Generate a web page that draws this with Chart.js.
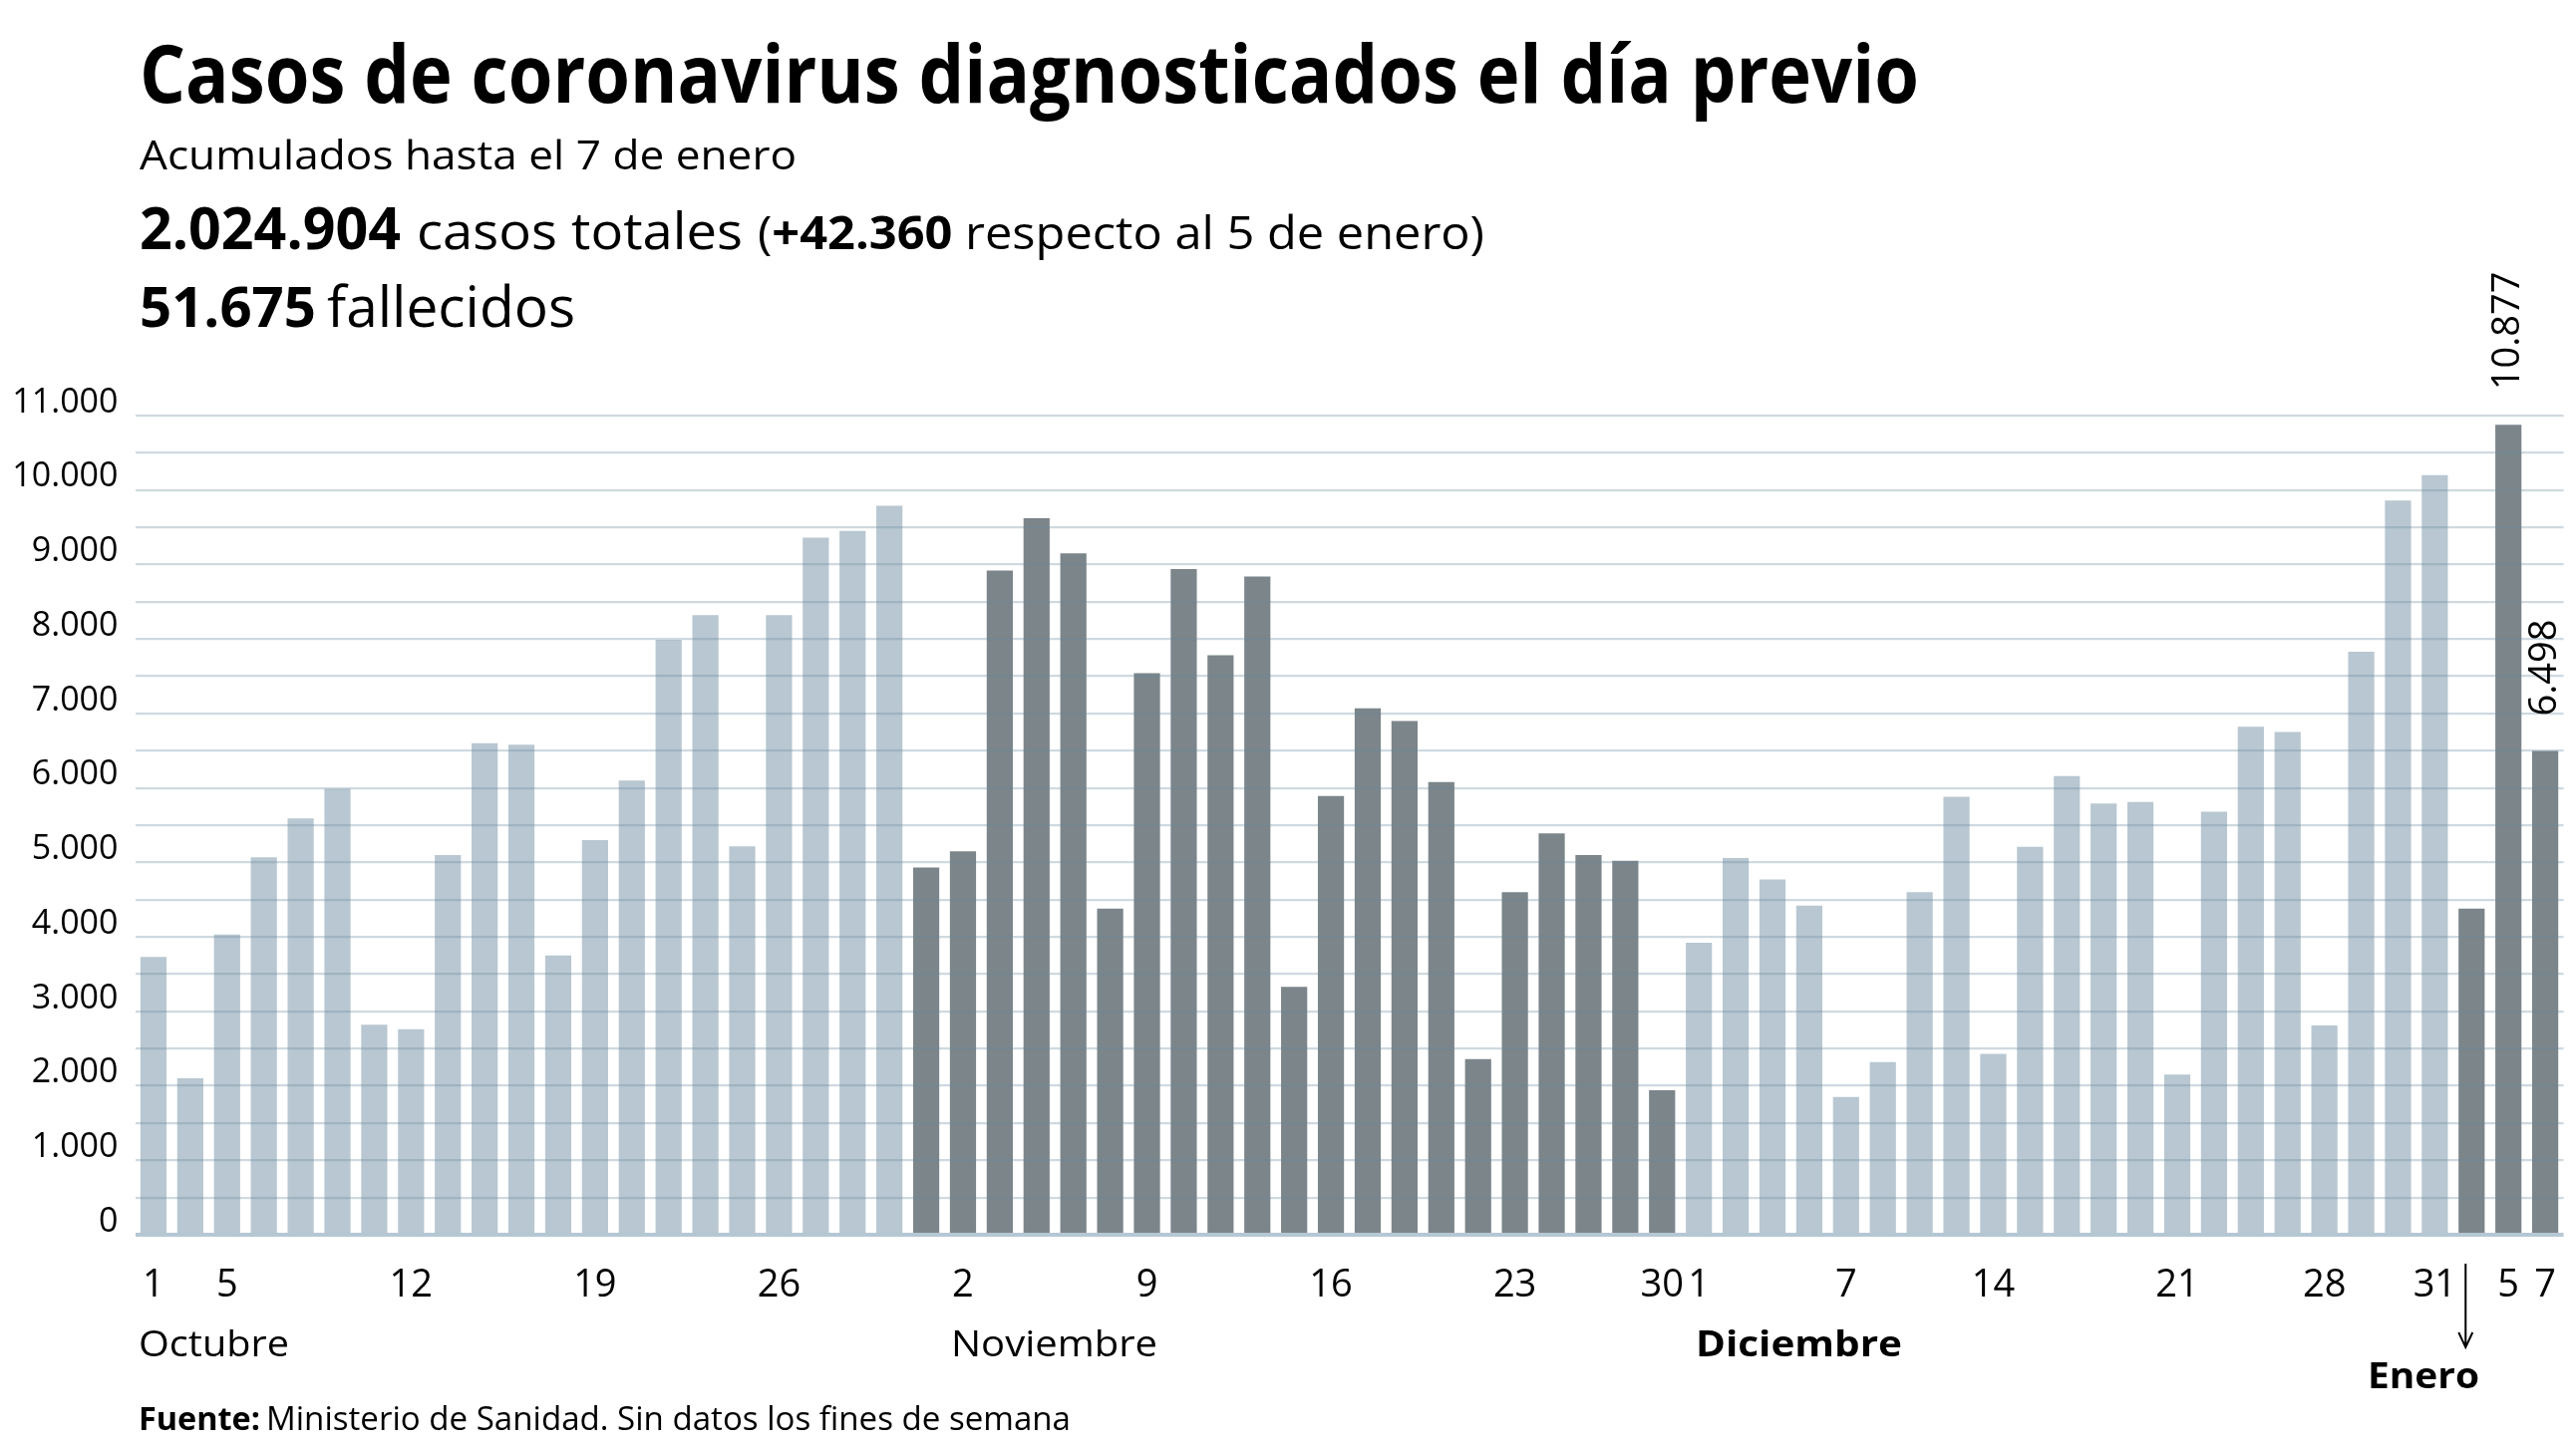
<!DOCTYPE html>
<html lang="es">
<head>
<meta charset="utf-8">
<title>Casos de coronavirus diagnosticados el día previo</title>
<script src="https://cdn.jsdelivr.net/npm/chart.js@4.4.1/dist/chart.umd.min.js"></script>
<style>
  html, body { margin: 0; padding: 0; background: #fff; }
  #wrap { position: relative; width: 2584px; height: 1455px; overflow: hidden; }
  #wrap canvas { position: absolute; left: 0; top: 0; }
  #textos { position: absolute; left: 0; top: 0; font-family: "Open Sans", sans-serif; fill: #000; }
</style>
</head>
<body>
<div id="wrap">
  <canvas id="casosChart" width="2584" height="1455"></canvas>
  <svg id="textos" width="2584" height="1455">
    <text x="140" y="103" font-size="81" font-weight="700" textLength="1785" lengthAdjust="spacingAndGlyphs">Casos de coronavirus diagnosticados el día previo</text>
    <text x="140" y="170" font-size="40" textLength="659" lengthAdjust="spacingAndGlyphs">Acumulados hasta el 7 de enero</text>
    <text x="140" y="250" font-size="59" font-weight="700" textLength="262" lengthAdjust="spacingAndGlyphs">2.024.904</text>
    <text x="418" y="250" font-size="52" textLength="327" lengthAdjust="spacingAndGlyphs">casos totales</text>
    <text x="760" y="250" font-size="46" textLength="729" lengthAdjust="spacingAndGlyphs">(<tspan font-weight="700">+42.360</tspan> respecto al 5 de enero)</text>
    <text x="140" y="328" font-size="56" font-weight="700" textLength="177" lengthAdjust="spacingAndGlyphs">51.675</text>
    <text x="328" y="328" font-size="56" textLength="249" lengthAdjust="spacingAndGlyphs">fallecidos</text>
    <text x="139" y="1361" font-size="36" textLength="151" lengthAdjust="spacingAndGlyphs">Octubre</text>
    <text x="954" y="1361" font-size="36" textLength="207" lengthAdjust="spacingAndGlyphs">Noviembre</text>
    <text x="1701" y="1361" font-size="36" font-weight="700" textLength="207" lengthAdjust="spacingAndGlyphs">Diciembre</text>
    <text x="2375" y="1393" font-size="36" font-weight="700" textLength="112" lengthAdjust="spacingAndGlyphs">Enero</text>
    <text x="139" y="1435" font-size="32" font-weight="700" textLength="122" lengthAdjust="spacingAndGlyphs">Fuente:</text>
    <text x="267" y="1435" font-size="32" textLength="807" lengthAdjust="spacingAndGlyphs">Ministerio de Sanidad. Sin datos los fines de semana</text>
  </svg>
</div>
<script>
// Días con datos (sin fines de semana ni festivos)
const diasOct = [1, 2, 5, 6, 7, 8, 9, 13, 14, 15, 16, 19, 20, 21, 22, 23, 26, 27, 28, 29, 30];
const diasNov = [2, 3, 4, 5, 6, 9, 10, 11, 12, 13, 16, 17, 18, 19, 20, 23, 24, 25, 26, 27, 30];
const diasDic = [1, 2, 3, 4, 7, 9, 10, 11, 14, 15, 16, 17, 18, 21, 22, 23, 24, 28, 29, 30, 31];
const diasEne = [4, 5, 7];

// Casos diagnosticados el día previo
const casosOct = [3730, 2100, 4030, 5070, 5590, 5990, 2820, 2760, 5100, 6600, 6580, 3750, 5300, 6100, 7990, 8320, 5215, 8320, 9360, 9450, 9790];
const casosNov = [4930, 5150, 8920, 9620, 9150, 4380, 7540, 8940, 7780, 8840, 3330, 5890, 7070, 6900, 6080, 2360, 4600, 5390, 5100, 5020, 1940];
const casosDic = [3920, 5060, 4770, 4420, 1850, 2320, 4600, 5880, 2430, 5210, 6160, 5790, 5810, 2150, 5680, 6820, 6750, 2810, 7830, 9860, 10200];
const casosEne = [4380, 10877, 6498];

// Etiquetas del eje tal como aparecen impresas
const etiquetasOct = ["1", "", "5", "", "", "", "", "12", "", "", "", "", "19", "", "", "", "", "26", "", "", ""];
const etiquetasNov = ["", "2", "", "", "", "", "9", "", "", "", "", "16", "", "", "", "", "23", "", "", "", "30"];
const etiquetasDic = ["1", "", "", "", "7", "", "", "", "14", "", "", "", "", "21", "", "", "", "28", "", "", "31"];
const etiquetasEne = ["", "5", "7"];

const claro = "#b8c7d1";
const oscuro = "#7b858a";

const dias = [...diasOct, ...diasNov, ...diasDic, ...diasEne];
const casos = [...casosOct, ...casosNov, ...casosDic, ...casosEne];
const etiquetasEje = [...etiquetasOct, ...etiquetasNov, ...etiquetasDic, ...etiquetasEne];
const colores = [
  ...casosOct.map(() => claro),
  ...casosNov.map(() => oscuro),
  ...casosDic.map(() => claro),
  ...casosEne.map(() => oscuro)
];
// barras con el valor rotulado (5 y 7 de enero)
const destacados = [casos.length - 2, casos.length - 1];
const indiceEnero = casos.length - 3;

function fmt(n) {
  return String(n).replace(/\B(?=(\d{3})+(?!\d))/g, ".");
}

// Rótulos de valor y flecha de enero
const anotaciones = {
  id: "anotaciones",
  afterDraw(chart) {
    const { ctx, scales: { x, y } } = chart;
    ctx.save();
    ctx.fillStyle = "#000";
    ctx.font = "38px 'Open Sans'";
    ctx.textAlign = "left";
    ctx.textBaseline = "middle";
    destacados.forEach(i => {
      ctx.save();
      ctx.translate(x.getPixelForValue(i), y.getPixelForValue(casos[i]) - 35);
      ctx.rotate(-Math.PI / 2);
      ctx.fillText(fmt(casos[i]), 0, 0);
      ctx.restore();
    });
    const ax = x.getPixelForValue(indiceEnero) - 6;
    ctx.strokeStyle = "#000";
    ctx.lineWidth = 2;
    ctx.beginPath();
    ctx.moveTo(ax, 1268);
    ctx.lineTo(ax, 1352);
    ctx.moveTo(ax - 7, 1337);
    ctx.lineTo(ax, 1352);
    ctx.lineTo(ax + 7, 1337);
    ctx.stroke();
    ctx.restore();
  }
};

const ctxCasos = document.getElementById("casosChart");
new Chart(ctxCasos, {
  type: "bar",
  data: {
    labels: dias,
    datasets: [{
      label: "Casos",
      data: casos,
      backgroundColor: colores,
      borderWidth: 0,
      barPercentage: 0.71,
      categoryPercentage: 1
    }]
  },
  options: {
    responsive: false,
    animation: false,
    devicePixelRatio: 1,
    layout: { padding: { left: 0, right: 6, top: 417, bottom: 0 } },
    plugins: {
      legend: { display: false },
      tooltip: { enabled: false }
    },
    scales: {
      x: {
        grid: { display: false },
        border: { display: false },
        ticks: {
          autoSkip: false,
          maxRotation: 0,
          padding: 20,
          color: "#000",
          font: { family: "Open Sans", size: 38 },
          callback: (v, i) => etiquetasEje[i]
        },
        afterFit: s => { s.height = 216; }
      },
      y: {
        min: 0,
        max: 11000,
        border: { display: false },
        grid: {
          z: 1,
          drawTicks: false,
          color: c => c.tick.value === 0 ? "rgba(150,175,192,0.7)" : "rgba(105,138,160,0.32)",
          lineWidth: c => c.tick.value === 0 ? 4 : 2.2
        },
        ticks: {
          stepSize: 500,
          autoSkip: false,
          padding: 17,
          labelOffset: -13,
          color: "#000",
          font: { family: "Open Sans", size: 34 },
          callback: v => v % 1000 === 0 ? fmt(v) : ""
        },
        afterFit: s => { s.width = 135.5; }
      }
    }
  },
  plugins: [anotaciones]
});
</script>
</body>
</html>
